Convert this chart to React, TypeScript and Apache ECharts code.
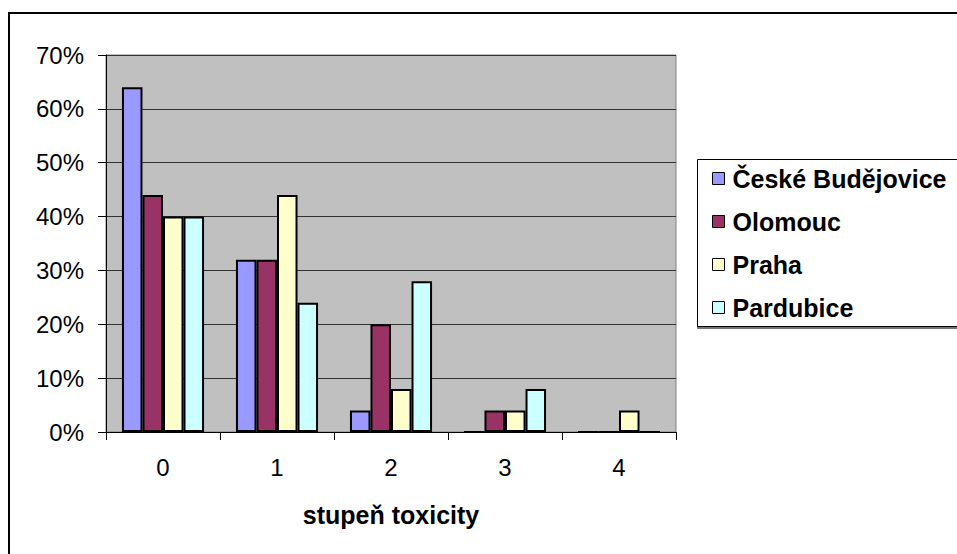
import React, { useEffect, useRef } from "react";
import * as echarts from "echarts";

const categories = ["0", "1", "2", "3", "4"];
const seriesNames = ["České Budějovice", "Olomouc", "Praha", "Pardubice"];
const ceskeBudejovice = [64, 32, 4, 0, 0];
const olomouc = [44, 32, 20, 4, 0];
const praha = [40, 44, 8, 4, 4];
const pardubice = [40, 24, 28, 8, 0];
const colors = ["#9999FF", "#993366", "#FFFFCC", "#CCFFFF"];

const FONT = "'Liberation Sans', Arial, sans-serif";

export default function App() {
  const ref = useRef<HTMLDivElement>(null);

  useEffect(() => {
    if (!ref.current) return;
    const chart = echarts.init(ref.current, undefined, { renderer: "svg" });
    const values = [ceskeBudejovice, olomouc, praha, pardubice];
    chart.setOption({
      animation: false,
      backgroundColor: "#ffffff",
      textStyle: { fontFamily: FONT },
      graphic: [
        {
          type: "rect",
          z: -10,
          shape: { x: 9, y: 13, width: 1000, height: 600 },
          style: { fill: "none", stroke: "#000000", lineWidth: 2 },
        },
        {
          type: "rect",
          z: -5,
          shape: { x: 697.5, y: 159.5, width: 400, height: 167 },
          style: {
            fill: "#ffffff",
            stroke: "#000000",
            lineWidth: 1,
            shadowColor: "rgba(0,0,0,0.55)",
            shadowOffsetY: 2,
            shadowBlur: 0,
          },
        },
      ],
      legend: {
        orient: "vertical",
        left: 707,
        top: 161,
        icon: "rect",
        itemWidth: 12,
        itemHeight: 12,
        itemGap: 18,
        data: seriesNames,
        itemStyle: { borderColor: "#000000", borderWidth: 1 },
        textStyle: {
          fontFamily: FONT,
          fontSize: 25,
          fontWeight: "bold",
          color: "#000000",
          padding: [0, 0, 0, 3],
        },
      },
      grid: {
        left: 106,
        right: 281,
        top: 55,
        bottom: 122,
        show: true,
        backgroundColor: "#C0C0C0",
        borderColor: "#808080",
        borderWidth: 1,
      },
      xAxis: {
        type: "category",
        data: categories,
        name: "stupeň toxicity",
        nameLocation: "middle",
        nameGap: 70,
        nameTextStyle: {
          fontFamily: FONT,
          fontSize: 25,
          fontWeight: "bold",
          color: "#000000",
        },
        axisLine: { lineStyle: { color: "#000000", width: 1 } },
        axisTick: { show: true, length: 8, lineStyle: { color: "#000000" } },
        axisLabel: {
          fontFamily: FONT,
          fontSize: 24,
          color: "#000000",
          margin: 23,
        },
      },
      yAxis: {
        type: "value",
        min: 0,
        max: 70,
        interval: 10,
        axisLine: { show: true, lineStyle: { color: "#000000", width: 1 } },
        axisTick: { show: true, length: 8, lineStyle: { color: "#000000" } },
        axisLabel: {
          formatter: "{value}%",
          fontFamily: FONT,
          fontSize: 24,
          color: "#000000",
          margin: 22,
        },
        splitLine: { lineStyle: { color: "#333333", width: 1 } },
      },
      series: seriesNames.map((name, i) => ({
        name,
        type: "bar",
        data: values[i],
        barGap: "0%",
        barCategoryGap: "28%",
        itemStyle: {
          color: colors[i],
          borderColor: "#000000",
          borderWidth: 2,
        },
      })),
    });
    return () => chart.dispose();
  }, []);

  return (
    <div
      ref={ref}
      style={{ position: "fixed", left: 0, top: 0, width: 957, height: 554 }}
    />
  );
}
